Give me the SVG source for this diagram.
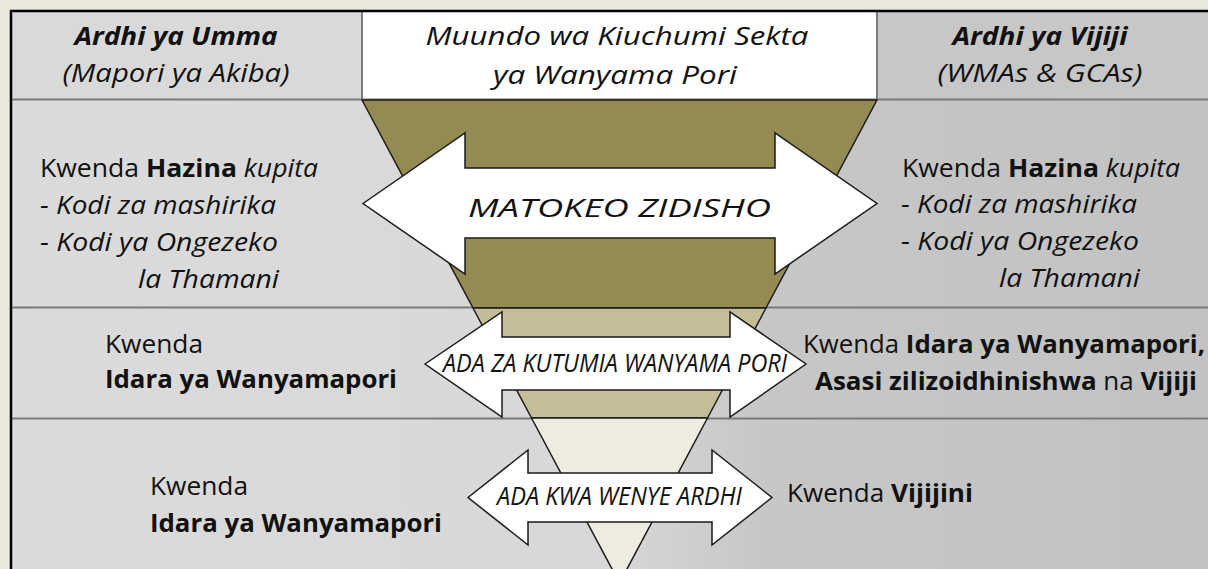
<svg xmlns="http://www.w3.org/2000/svg" width="1208" height="569" viewBox="0 0 1208 569">
<defs>
<linearGradient id="bg" x1="0" y1="0" x2="1208" y2="0" gradientUnits="userSpaceOnUse">
<stop offset="0" stop-color="#dbdbdb"/>
<stop offset="0.5" stop-color="#d8d8d8"/>
<stop offset="0.63" stop-color="#c7c7c7"/>
<stop offset="1" stop-color="#c2c2c2"/>
</linearGradient>
<style>
.t{font-family:"Open Sans","Noto Sans","DejaVu Sans",sans-serif;fill:#111;font-size:25px}
.b{font-weight:bold}
.i{font-style:italic}
.m{text-anchor:middle}
.row{stroke:#7a7a7a;stroke-width:2}
.band{stroke:#1a1a1a;stroke-width:1.5;stroke-linejoin:round}
.arr{fill:#fff;stroke:#1a1a1a;stroke-width:1.5;stroke-linejoin:miter}
</style>
</defs>
<rect x="0" y="0" width="1208" height="569" fill="#ebe7dc"/>
<g id="table">
<rect x="11" y="11" width="1197" height="558" fill="url(#bg)"/>
<rect x="12" y="12" width="350" height="87" fill="#d9d9d9"/>
<rect x="877" y="12" width="331" height="87" fill="#c7c7c7"/>
<rect x="362" y="12" width="515" height="88" fill="#ffffff"/>
<line class="row" x1="12" y1="99.5" x2="1208" y2="99.5"/>
<line class="row" x1="362" y1="12" x2="362" y2="100"/>
<line class="row" x1="877" y1="12" x2="877" y2="100"/>
<line class="row" x1="12" y1="307.5" x2="1208" y2="307.5"/>
<line class="row" x1="12" y1="418.5" x2="1208" y2="418.5"/>
<path d="M11,569 V11 H1208" fill="none" stroke="#000" stroke-width="2.5"/>
</g>
<g id="funnel">
<polygon id="band1" class="band" fill="#948a54" points="362,100 877,100 766,308 473,308"/>
<polygon id="band2" class="band" fill="#c4bd97" points="473,308 766,308 707.5,418 531.5,418"/>
<polygon id="band3" class="band" fill="#eeece1" points="531.5,418 707.5,418 619.5,583"/>
</g>
<g id="arrows">
<g id="arrow-matokeo">
<path class="arr" d="M363,203.5 L465,133 L465,168 L775,168 L775,133 L877,203.5 L775,274 L775,238 L465,238 L465,274 Z"/>
<text class="t i m" x="619.5" y="217" font-size="36" textLength="303" lengthAdjust="spacingAndGlyphs">MATOKEO ZIDISHO</text>
</g>
<g id="arrow-ada-kutumia">
<path class="arr" d="M425,364 L502,312 L502,337 L730,337 L730,312 L806,364 L730,417 L730,390 L502,390 L502,417 Z"/>
<text class="t i m" x="615" y="372" font-size="22" textLength="344" lengthAdjust="spacingAndGlyphs">ADA ZA KUTUMIA WANYAMA PORI</text>
</g>
<g id="arrow-ada-ardhi">
<path class="arr" d="M468,497.5 L528,450 L528,473 L712,473 L712,450 L772,497.5 L712,545 L712,522 L528,522 L528,545 Z"/>
<text class="t i m" x="619.5" y="505" font-size="22" textLength="245" lengthAdjust="spacingAndGlyphs">ADA KWA WENYE ARDHI</text>
</g>
</g>
<g id="header-left">
<text class="t b i m" x="176" y="45" textLength="203" lengthAdjust="spacingAndGlyphs">Ardhi ya Umma</text>
<text class="t i m" x="176" y="82" textLength="227" lengthAdjust="spacingAndGlyphs">(Mapori ya Akiba)</text>
</g>
<g id="header-center">
<text class="t i m" x="617" y="45" font-size="27" textLength="383" lengthAdjust="spacingAndGlyphs">Muundo wa Kiuchumi Sekta</text>
<text class="t i m" x="615" y="84" font-size="27" textLength="244" lengthAdjust="spacingAndGlyphs">ya Wanyama Pori</text>
</g>
<g id="header-right">
<text class="t b i m" x="1040" y="45" textLength="175" lengthAdjust="spacingAndGlyphs">Ardhi ya Vijiji</text>
<text class="t i m" x="1040" y="82" textLength="205" lengthAdjust="spacingAndGlyphs">(WMAs &amp; GCAs)</text>
</g>
<g id="row2-left">
<text class="t" x="40" y="177" textLength="278" lengthAdjust="spacingAndGlyphs">Kwenda <tspan class="b">Hazina</tspan> <tspan class="i">kupita</tspan></text>
<text class="t i" x="40" y="214" textLength="236" lengthAdjust="spacingAndGlyphs">- Kodi za mashirika</text>
<text class="t i" x="40" y="251" textLength="238" lengthAdjust="spacingAndGlyphs">- Kodi ya Ongezeko</text>
<text class="t i" x="138" y="288" textLength="141" lengthAdjust="spacingAndGlyphs">la Thamani</text>
</g>
<g id="row2-right">
<text class="t" x="902" y="177" textLength="278" lengthAdjust="spacingAndGlyphs">Kwenda <tspan class="b">Hazina</tspan> <tspan class="i">kupita</tspan></text>
<text class="t i" x="901" y="213" textLength="236" lengthAdjust="spacingAndGlyphs">- Kodi za mashirika</text>
<text class="t i" x="901" y="250" textLength="238" lengthAdjust="spacingAndGlyphs">- Kodi ya Ongezeko</text>
<text class="t i" x="999" y="287" textLength="141" lengthAdjust="spacingAndGlyphs">la Thamani</text>
</g>
<g id="row3-left">
<text class="t" x="105" y="353" textLength="98" lengthAdjust="spacingAndGlyphs">Kwenda</text>
<text class="t b" x="105" y="388" textLength="292" lengthAdjust="spacingAndGlyphs">Idara ya Wanyamapori</text>
</g>
<g id="row3-right">
<text class="t" x="803" y="353" textLength="402" lengthAdjust="spacingAndGlyphs">Kwenda <tspan class="b">Idara ya Wanyamapori,</tspan></text>
<text class="t" x="815" y="390" textLength="382" lengthAdjust="spacingAndGlyphs"><tspan class="b">Asasi zilizoidhinishwa</tspan> na <tspan class="b">Vijiji</tspan></text>
</g>
<g id="row4-left">
<text class="t" x="150" y="495" textLength="98" lengthAdjust="spacingAndGlyphs">Kwenda</text>
<text class="t b" x="150" y="532" textLength="292" lengthAdjust="spacingAndGlyphs">Idara ya Wanyamapori</text>
</g>
<g id="row4-right">
<text class="t" x="787" y="502" textLength="186" lengthAdjust="spacingAndGlyphs">Kwenda <tspan class="b">Vijijini</tspan></text>
</g>
</svg>
